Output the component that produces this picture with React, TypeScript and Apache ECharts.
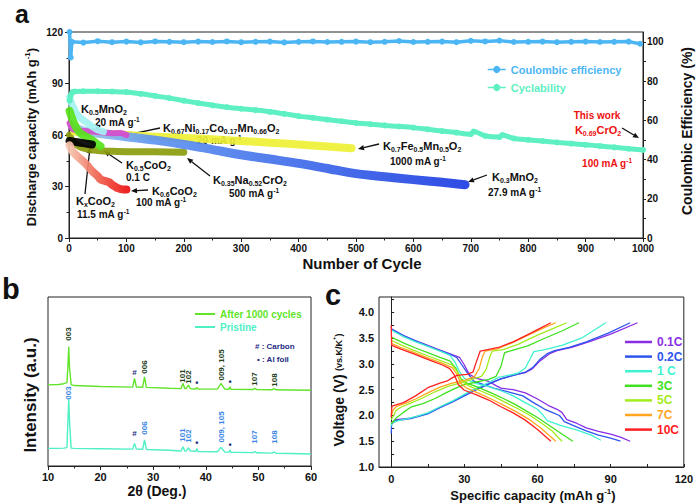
import React, { useEffect, useRef } from "react";
import * as echarts from "echarts";

const FONT = '"Liberation Sans", Arial, Helvetica, sans-serif';

// ---------------- Panel a: cycling data ----------------
const ceData: [number, number][] = [
  [1, 105], [3, 92], [5, 100], [25, 99.6], [50, 100.3], [75, 99.8], [100, 100.1], [125, 99.7], [150, 100.2],
  [175, 100], [200, 99.8], [225, 100.1], [250, 99.9], [275, 100.2], [300, 99.8], [325, 100], [350, 100.1],
  [375, 99.7], [400, 100], [425, 100.2], [450, 99.9], [475, 100], [500, 100.1], [525, 99.8], [550, 100],
  [575, 100.4], [600, 99.9], [625, 100], [650, 100.1], [675, 99.8], [700, 100.5], [725, 100.2], [750, 100.6],
  [775, 99.9], [800, 100], [825, 100.1], [850, 99.8], [875, 100], [900, 100.1], [925, 99.9], [950, 100],
  [975, 100.1], [995, 99],
];
const cyclability: [number, number][] = [
  [1, 80], [3, 83], [6, 85], [10, 85.3], [25, 85.5], [50, 85.5], [75, 85.3], [100, 85], [125, 84], [150, 82.8],
  [175, 81.5], [200, 80], [225, 78.6], [250, 77.3], [275, 76.2], [300, 75.3], [325, 74.5], [350, 73.5],
  [375, 72.3], [400, 71], [425, 70], [450, 69], [475, 68], [500, 67], [525, 66.3], [550, 65.6], [575, 65],
  [600, 64.3], [625, 63.3], [650, 62.3], [675, 61.4], [700, 60.5], [705, 62], [725, 59.5], [750, 58.8],
  [755, 60], [775, 58], [800, 57.2], [825, 56.5], [850, 55.7], [875, 55], [900, 54.3], [925, 53.6],
  [950, 52.8], [975, 52], [1000, 51.3],
];
const k035Na052CrO2: [number, number][] = [
  [1, 60], [5, 57], [10, 55], [20, 53], [30, 52], [50, 51], [75, 50.5], [100, 50.3], [150, 50.2], [200, 50],
];
const k07Fe05Mn05O2: [number, number][] = [
  [10, 62], [50, 61], [100, 60], [150, 59], [200, 58.3], [250, 57.5], [300, 56.5], [350, 55.5], [400, 54.5],
  [450, 53.3], [492, 52.3],
];
const k03MnO2: [number, number][] = [
  [5, 66], [10, 64.5], [20, 63], [30, 62], [50, 61], [75, 60], [100, 59], [150, 57], [200, 54.5], [250, 51.5],
  [300, 48.5], [350, 46], [400, 43.5], [450, 40.5], [500, 37.5], [550, 35.7], [600, 34], [650, 32.5], [690, 31],
];
const k067NiCoMnO2: [number, number][] = [
  [1, 67], [5, 64], [10, 63], [20, 62.5], [40, 62], [60, 61.5], [80, 61], [90, 61.2], [100, 60],
];
const k05MnO2: [number, number][] = [
  [1, 82], [3, 80], [5, 78], [8, 76], [12, 73], [20, 70], [30, 67.5], [40, 65], [50, 63], [60, 62],
];
const k05CoO2: [number, number][] = [
  [1, 74], [3, 72], [5, 70], [10, 66], [15, 63], [20, 61], [30, 59], [40, 57], [50, 54.5], [55, 53.5],
];
const kxCoO2: [number, number][] = [[1, 56.5], [10, 56], [20, 55.5], [30, 55], [40, 54.5]];
const k06CoO2: [number, number][] = [
  [1, 54], [5, 51], [10, 49], [20, 46], [30, 43], [40, 39], [50, 36], [55, 34], [60, 33.5], [65, 33], [70, 32.5],
  [75, 31], [80, 30], [85, 29], [90, 28.5], [95, 28.3], [100, 28.3],
];
const aLeftTicks = [0, 30, 60, 90, 120];
const aRightLabels = [0, 20, 40, 60, 80, 100];
const aRightTicks = [0, 10, 20, 30, 40, 50, 60, 70, 80, 90, 100];

// ---------------- Panel b: XRD ----------------
const xrdAfter: [number, number][] = [
  [10, 48], [12, 48.2], [13, 48.7], [13.6, 49.3], [13.8, 60], [13.95, 70.5], [14.1, 58], [14.4, 48.2],
  [15, 47.6], [20, 47], [26.1, 46.7], [26.45, 51.9], [26.8, 46.7], [28.0, 46.6], [28.35, 52.8], [28.7, 46.5],
  [33, 46], [35.3, 45.8], [35.65, 48.9], [36.0, 45.9], [36.3, 45.9], [36.7, 47.9], [37.1, 45.7], [38.1, 45.6],
  [38.3, 46.6], [38.5, 45.6], [42.2, 45.5], [42.9, 48.9], [43.6, 45.5], [44.4, 45.4], [44.6, 46.9],
  [44.8, 45.4], [49.0, 45.3], [49.35, 45.9], [49.7, 45.2], [52.6, 45.1], [53.0, 45.8], [53.4, 45.1],
  [56, 45], [60, 44.8],
];
const xrdPristine: [number, number][] = [
  [10, 10.4], [12, 10.4], [13, 10.6], [13.6, 10.9], [13.8, 28], [13.95, 39.5], [14.1, 26], [14.4, 10.6],
  [15, 10.4], [20, 10.2], [26.1, 10], [26.45, 13.4], [26.8, 10], [28.0, 9.9], [28.35, 15.4], [28.7, 9.8],
  [33, 9.3], [35.3, 8.9], [35.65, 11.4], [36.0, 8.9], [36.3, 8.9], [36.7, 10.8], [37.1, 8.8], [38.1, 8.7],
  [38.3, 10.4], [38.5, 8.6], [42.2, 8.4], [42.9, 11], [43.6, 8.3], [44.4, 8.2], [44.6, 9.5], [44.8, 8.1],
  [49.0, 7.9], [49.35, 8.5], [49.7, 7.8], [52.6, 7.6], [53.0, 8.3], [53.4, 7.5], [56, 7.4], [60, 7.1],
];
const peakPos = [13.95, 26.45, 28.35, 35.65, 36.7, 38.3, 42.9, 44.6, 49.35, 53.0];
const peakText = ["003", "#", "006", "101", "102", "•", "009, 105", "•", "107", "108"];
const peakYAfter = [334, 372, 367, 376, 377, 383, 365, 382, 379, 380];
const peakYPristine = [393, 433, 428, 435, 436, 443, 427, 445, 437, 437];

// ---------------- Panel c: charge/discharge ----------------
const rates = ["0.1C", "0.2C", "1 C", "3C", "5C", "7C", "10C"];
const rateColors = ["#8a2ee6", "#2f55ee", "#3ff2cf", "#3fe01e", "#a2ec1c", "#ffa61e", "#ff2020"];
const charge: [number, number][][] = [
  [[0, 1.86], [2, 1.92], [8, 1.95], [15, 2.04], [20, 2.16], [25, 2.27], [30, 2.39], [35, 2.51], [40, 2.62],
    [45, 2.71], [50, 2.78], [55, 2.83], [58, 2.91], [61, 3.06], [65, 3.2], [68, 3.26], [74, 3.32], [81, 3.43],
    [90, 3.58], [101, 3.8]],
  [[0, 1.65], [0.2, 1.84], [2, 1.9], [8, 1.94], [15, 2.03], [20, 2.15], [25, 2.26], [30, 2.38], [35, 2.5],
    [40, 2.61], [45, 2.71], [50, 2.78], [55, 2.84], [58, 2.93], [61, 3.09], [64, 3.2], [67, 3.26], [73, 3.32],
    [80, 3.43], [89, 3.6], [98, 3.8]],
  [[0, 1.8], [0.3, 1.86], [3, 1.9], [10, 1.98], [15, 2.05], [20, 2.17], [25, 2.28], [30, 2.41], [35, 2.53],
    [40, 2.64], [44, 2.74], [48, 2.78], [52, 2.82], [55, 2.92], [57, 3.1], [58.5, 3.24], [63, 3.28], [70, 3.36],
    [78, 3.5], [88, 3.8]],
  [[0, 1.84], [2, 1.95], [5, 2.06], [8, 2.16], [13, 2.23], [18, 2.33], [22, 2.43], [26, 2.52], [30, 2.6],
    [35, 2.65], [40, 2.7], [43, 2.76], [45, 2.95], [46.5, 3.22], [50, 3.27], [56, 3.35], [62, 3.48], [70, 3.64],
    [77, 3.8]],
  [[0, 1.92], [1, 2.0], [2, 2.1], [4, 2.16], [8, 2.24], [12, 2.32], [18, 2.46], [23, 2.56], [28, 2.63],
    [33, 2.7], [37, 2.76], [39, 2.9], [40.5, 3.15], [41.5, 3.25], [46, 3.28], [52, 3.38], [60, 3.56], [67, 3.7],
    [72, 3.8]],
  [[0, 1.98], [0.7, 2.1], [2, 2.17], [6, 2.24], [10, 2.32], [15, 2.44], [20, 2.55], [25, 2.63], [30, 2.68],
    [34, 2.75], [36, 2.9], [37.5, 3.15], [38.5, 3.25], [44, 3.3], [50, 3.42], [57, 3.58], [63, 3.71], [67.5, 3.8]],
  [[0, 1.97], [0.3, 2.18], [5, 2.25], [10, 2.38], [15, 2.54], [20, 2.63], [23, 2.67], [25, 2.73], [27, 2.78],
    [31, 2.8], [33.5, 2.84], [35, 3.05], [36.5, 3.25], [44, 3.32], [50, 3.43], [56, 3.57], [61, 3.69], [65.5, 3.8]],
];
const discharge: [number, number][][] = [
  [[0, 3.68], [5, 3.55], [10, 3.45], [15, 3.36], [20, 3.27], [25, 3.18], [28, 3.13], [30, 2.98], [32, 2.8],
    [35, 2.72], [40, 2.66], [43, 2.58], [45, 2.53], [50, 2.5], [55, 2.44], [60, 2.32], [65, 2.18], [68, 2.12],
    [70, 2.06], [72, 1.92], [76, 1.85], [80, 1.76], [85, 1.69], [90, 1.64], [94, 1.58], [98, 1.5]],
  [[0, 3.68], [5, 3.55], [10, 3.45], [15, 3.35], [20, 3.26], [25, 3.17], [27, 3.12], [29, 2.98], [31, 2.84],
    [34, 2.66], [38, 2.6], [42, 2.53], [48, 2.46], [54, 2.38], [58, 2.26], [63, 2.12], [66, 2.06], [69, 2.0],
    [71, 1.88], [75, 1.8], [80, 1.7], [85, 1.62], [90, 1.56], [94, 1.5]],
  [[0, 3.66], [5, 3.53], [10, 3.43], [15, 3.34], [20, 3.25], [24, 3.17], [26, 3.05], [28, 2.85], [30, 2.72],
    [35, 2.62], [40, 2.56], [45, 2.48], [50, 2.38], [55, 2.25], [60, 2.12], [62, 2.02], [64, 1.9], [70, 1.8],
    [76, 1.72], [82, 1.62], [86, 1.52]],
  [[0, 3.52], [5, 3.41], [10, 3.31], [15, 3.22], [20, 3.13], [24, 3.06], [26.5, 2.92], [28.5, 2.72], [31, 2.63],
    [36, 2.54], [41, 2.44], [46, 2.33], [51, 2.21], [55, 2.1], [60, 1.96], [65, 1.8], [70, 1.64], [74.5, 1.5]],
  [[0, 3.46], [4, 3.37], [9, 3.27], [16, 3.14], [21, 3.05], [25, 2.98], [27, 2.86], [29, 2.66], [32, 2.57],
    [37, 2.47], [42, 2.37], [47, 2.25], [52, 2.13], [57, 2.0], [62, 1.84], [66, 1.7], [70, 1.5]],
  [[0, 3.4], [4, 3.32], [9, 3.23], [16, 3.1], [21, 3.01], [25, 2.93], [27, 2.8], [28.5, 2.62], [31, 2.53],
    [36, 2.43], [41, 2.32], [46, 2.2], [51, 2.08], [56, 1.94], [61, 1.77], [67.5, 1.5]],
  [[0, 3.75], [0.2, 3.36], [4, 3.29], [9, 3.2], [16, 3.07], [21, 2.98], [24, 2.91], [26, 2.78], [27.5, 2.6],
    [30, 2.49], [35, 2.4], [40, 2.3], [45, 2.17], [50, 2.05], [55, 1.91], [60, 1.73], [65.5, 1.5]],
];
const cXLabels = [0, 30, 60, 90, 120];
const cXTicks = [0, 15, 30, 45, 60, 75, 90, 105, 120];
const cYLabels = [1.0, 1.5, 2.0, 2.5, 3.0, 3.5, 4.0];
const cYTicks = [1.0, 1.25, 1.5, 1.75, 2.0, 2.25, 2.5, 2.75, 3.0, 3.25, 3.5, 3.75, 4.0, 4.25];

// ---------------- layout ----------------
const gridA = { left: 69, top: 32, width: 574, height: 206 };
const gridB = { left: 48, top: 297, width: 263, height: 169 };
const gridC = { left: 379, top: 297, width: 306, height: 170 };
const bX = (deg: number) => gridB.left + ((deg - 10) / 50) * gridB.width;

const lbl = (extra: any = {}) => ({
  color: "#111", fontWeight: "bold", fontFamily: FONT, fontSize: 10, ...extra,
});

function chem(s: string, m = "f", sb = "s") {
  const re = /\{([^}]*)\}/g;
  let out = "";
  let last = 0;
  let mm: RegExpExecArray | null;
  while ((mm = re.exec(s))) {
    if (mm.index > last) out += `{${m}|${s.slice(last, mm.index)}}`;
    out += `{${sb}|${mm[1]}}`;
    last = re.lastIndex;
  }
  if (last < s.length) out += `{${m}|${s.slice(last)}}`;
  return out;
}
const rate = (t: string, r = "r", u = "u") => `{${r}|${t} g}{${u}|-1}`;

const mkRich = (fill: string) => ({
  f: { fontSize: 11, fontWeight: "bold", fontFamily: FONT, lineHeight: 13, fill },
  s: { fontSize: 7, fontWeight: "bold", fontFamily: FONT, lineHeight: 8, verticalAlign: "bottom", fill },
  r: { fontSize: 10, fontWeight: "bold", fontFamily: FONT, lineHeight: 13, fill },
  u: { fontSize: 6.5, fontWeight: "bold", fontFamily: FONT, lineHeight: 7, verticalAlign: "top", fill },
});
const RICH = mkRich("#111");
const RICH_RED = mkRich("#ee1111");

function T(x: number, y: number, text: string, rich: any = RICH, align = "left", extra: any = {}) {
  return {
    type: "text", x, y, silent: true, ...extra,
    style: {
      text, rich, align, textAlign: align, verticalAlign: "middle", textVerticalAlign: "middle",
      fill: "#111", fontFamily: FONT, fontSize: 11, fontWeight: "bold",
    },
  };
}
function plain(x: number, y: number, text: string, size: number, color = "#111", align = "center", rotation = 0, lineHeight?: number) {
  const style: any = {
    text, align, textAlign: align, verticalAlign: "middle", textVerticalAlign: "middle",
    fill: color, fontFamily: FONT, fontSize: size, fontWeight: "bold",
  };
  if (lineHeight) style.lineHeight = lineHeight;
  return { type: "text", x, y, rotation, silent: true, style };
}
function arrow(x1: number, y1: number, x2: number, y2: number, color = "#111") {
  const ang = Math.atan2(y2 - y1, x2 - x1);
  const L = 6, W = 2.6;
  const bx = x2 - L * Math.cos(ang), by = y2 - L * Math.sin(ang);
  const px = -Math.sin(ang) * W, py = Math.cos(ang) * W;
  return [
    { type: "line", silent: true, shape: { x1, y1, x2: bx, y2: by }, style: { stroke: color, lineWidth: 1.3 } },
    { type: "polygon", silent: true, shape: { points: [[x2, y2], [bx + px, by + py], [bx - px, by - py]] }, style: { fill: color } },
  ];
}

function band(name: string, data: [number, number][], color: any, width: number, extra: any = {}) {
  return {
    type: "line", name, data, xAxisIndex: 0, yAxisIndex: 0, symbol: "none", showSymbol: false,
    smooth: 0.3, silent: true, lineStyle: { color, width, cap: "round", join: "round", opacity: 0.92 },
    ...extra,
  };
}

export default function App() {
  const ref = useRef<HTMLDivElement>(null);
  useEffect(() => {
    if (!ref.current) return;
    const chart = echarts.init(ref.current, undefined, { renderer: "svg" });
    const blueGrad = new echarts.graphic.LinearGradient(0, 0, 1, 0, [
      { offset: 0, color: "#a6d0f6" }, { offset: 0.2, color: "#5f95f0" }, { offset: 1, color: "#1d3de2" },
    ]);
    const redGrad = new echarts.graphic.LinearGradient(0, 0, 1, 0, [
      { offset: 0, color: "#f6c4ae" }, { offset: 0.45, color: "#ef6a55" }, { offset: 1, color: "#ee1111" },
    ]);

    const axisLine = { show: true, lineStyle: { color: "#222", width: 1 } };

    const series: any[] = [
      band("K0.35Na0.52CrO2", k035Na052CrO2, "#8c9c0c", 7),
      band("K0.7Fe0.5Mn0.5O2", k07Fe05Mn05O2, "#eef034", 8),
      band("K0.3MnO2", k03MnO2, blueGrad, 9),
      band("K0.67Ni0.17Co0.17Mn0.66O2", k067NiCoMnO2, "#d64ccc", 6),
      band("K0.5MnO2", k05MnO2, "#a2f2f2", 7),
      band("K0.5CoO2", k05CoO2, "#58e21c", 8),
      band("KxCoO2", kxCoO2, "#000000", 8),
      band("K0.6CoO2", k06CoO2, redGrad, 8),
      {
        type: "line", name: "Cyclability", data: cyclability, xAxisIndex: 0, yAxisIndex: 0, smooth: 0.3,
        symbol: "circle", symbolSize: 6, showSymbol: true, silent: true,
        lineStyle: { color: "#5ef0c2", width: 5 }, itemStyle: { color: "#5ef0c2" },
      },
      {
        type: "line", name: "Coulombic efficiency", data: ceData, xAxisIndex: 0, yAxisIndex: 1,
        symbol: "circle", symbolSize: 6, showSymbol: true, silent: true,
        lineStyle: { color: "#4cb6f4", width: 3.5 }, itemStyle: { color: "#4cb6f4" },
      },
      {
        type: "line", name: "After 1000 cycles", data: xrdAfter, xAxisIndex: 1, yAxisIndex: 2, symbol: "none",
        silent: true, lineStyle: { color: "#62e42a", width: 1.4 }, itemStyle: { color: "#62e42a" },
      },
      {
        type: "line", name: "Pristine", data: xrdPristine, xAxisIndex: 1, yAxisIndex: 2, symbol: "none",
        silent: true, lineStyle: { color: "#4ff0c4", width: 1.4 }, itemStyle: { color: "#4ff0c4" },
      },
    ];
    rates.forEach((r, i) => {
      [charge[i], discharge[i]].forEach((d) => {
        series.push({
          type: "line", name: r, data: d, xAxisIndex: 2, yAxisIndex: 3, symbol: "none", silent: true,
          lineStyle: { color: rateColors[i], width: 1.3 }, itemStyle: { color: rateColors[i] },
        });
      });
    });

    const graphics: any[] = [
      // panel letters
      plain(15, 13.5, "a", 25, "#111", "left", 0, 25),
      plain(2, 289, "b", 29, "#111", "left", 0, 22),
      plain(325, 295, "c", 29, "#111", "left", 0, 20),
      // axis titles
      {
        type: "text", x: 31, y: 137, rotation: Math.PI / 2, silent: true,
        style: {
          text: "{t|Discharge capacity (mAh g}{p|-1}{t|)}", align: "center", textAlign: "center",
          verticalAlign: "middle", textVerticalAlign: "middle",
          rich: {
            t: { fontSize: 13, fontWeight: "bold", fontFamily: FONT, lineHeight: 15, fill: "#111" },
            p: { fontSize: 8, fontWeight: "bold", fontFamily: FONT, lineHeight: 8, verticalAlign: "top", fill: "#111" },
          },
        },
      },
      plain(687, 131, "Coulombic Efficiency (%)", 14, "#111", "center", Math.PI / 2),
      plain(362, 263, "Number of Cycle", 15),
      plain(30, 395, "Intensity (a.u.)", 17, "#111", "center", Math.PI / 2),
      plain(157, 491, "2θ (Deg.)", 14),
      {
        type: "text", x: 533, y: 495, silent: true,
        style: {
          text: "{t|Specific capacity (mAh g}{p|-1}{t|)}", align: "center", textAlign: "center",
          verticalAlign: "middle", textVerticalAlign: "middle",
          rich: {
            t: { fontSize: 13, fontWeight: "bold", fontFamily: FONT, lineHeight: 15, fill: "#111" },
            p: { fontSize: 8, fontWeight: "bold", fontFamily: FONT, lineHeight: 8, verticalAlign: "top", fill: "#111" },
          },
        },
      },
      {
        type: "text", x: 339, y: 390, rotation: Math.PI / 2, silent: true,
        style: {
          text: "{t|Voltage (V)} {w|(vs.K/K}{p|+}{w|)}", align: "center", textAlign: "center",
          verticalAlign: "middle", textVerticalAlign: "middle",
          rich: {
            t: { fontSize: 14, fontWeight: "bold", fontFamily: FONT, lineHeight: 16, fill: "#111" },
            w: { fontSize: 9, fontWeight: "bold", fontFamily: FONT, lineHeight: 16, fill: "#111" },
            p: { fontSize: 6, fontWeight: "bold", fontFamily: FONT, lineHeight: 8, verticalAlign: "top", fill: "#111" },
          },
        },
      },
      // panel a annotations
      T(81, 109, chem("K{0.5}MnO{2}")),
      T(95, 122, rate("20 mA")),
      ...arrow(100, 126, 95, 133),
      T(163, 128, chem("K{0.67}Ni{0.17}Co{0.17}Mn{0.66}O{2}")),
      T(197, 140, rate("20 mA")),
      ...arrow(160, 128, 126, 135),
      T(126, 165, chem("K{0.5}CoO{2}")),
      T(126, 177, "{r|0.1 C}"),
      ...arrow(122, 163, 104, 151),
      T(213, 180, chem("K{0.35}Na{0.52}CrO{2}")),
      T(229, 193, rate("500 mA")),
      ...arrow(210, 176, 187, 158),
      T(152, 191, chem("K{0.6}CoO{2}")),
      T(136, 202, rate("100 mA")),
      ...arrow(148, 190, 131, 191),
      T(76, 201, chem("K{x}CoO{2}")),
      T(77, 214, rate("11.5 mA")),
      ...arrow(85, 194, 90, 147),
      T(383, 146, chem("K{0.7}Fe{0.5}Mn{0.5}O{2}")),
      T(390, 161, rate("1000 mA")),
      ...arrow(379, 144, 358, 149),
      T(492, 177, chem("K{0.3}MnO{2}")),
      T(488, 192, rate("27.9 mA")),
      ...arrow(487, 175, 468, 182),
      T(597, 115, "{r|This work}", RICH_RED, "center"),
      T(598, 130, chem("K{0.69}CrO{2}"), RICH_RED, "center"),
      ...arrow(622, 128, 639, 138),
      T(607, 163, rate("100 mA"), RICH_RED, "center"),
      // panel b annotations
      plain(255, 346, "# : Carbon", 8, "#1c2a80", "left"),
      plain(257, 359, "• : Al foil", 8, "#1c2a80", "left"),
    ];
    peakPos.forEach((p, i) => {
      const t = peakText[i];
      const rot = t === "#" || t === "•" ? 0 : Math.PI / 2;
      graphics.push(plain(bX(p), peakYAfter[i], t, t === "•" ? 9 : 8, t === "#" || t === "•" ? "#1c2a80" : "#22401a", "center", rot));
      graphics.push(plain(bX(p), peakYPristine[i], t, t === "•" ? 9 : 8, t === "#" || t === "•" ? "#1c2a80" : "#3a86e6", "center", rot));
    });

    chart.setOption({
      animation: false,
      textStyle: { fontFamily: FONT },
      grid: [
        { ...gridA, show: true, borderColor: "#222", borderWidth: 1, backgroundColor: "transparent" },
        { ...gridB, show: true, borderColor: "#222", borderWidth: 1, backgroundColor: "transparent" },
        { ...gridC, show: true, borderColor: "#222", borderWidth: 1, backgroundColor: "transparent" },
      ],
      xAxis: [
        {
          type: "value", gridIndex: 0, min: 0, max: 1000, interval: 100, axisLine,
          axisTick: { show: true, inside: false, length: 4, lineStyle: { color: "#222" } },
          minorTick: { show: true, splitNumber: 2, length: 2.5, lineStyle: { color: "#222" } },
          axisLabel: lbl({ margin: 5, fontSize: 10, formatter: (v: number) => String(v) }), splitLine: { show: false },
        },
        {
          type: "value", gridIndex: 1, min: 10, max: 60, interval: 10, axisLine,
          axisTick: { show: true, inside: false, length: 4, lineStyle: { color: "#222" } },
          minorTick: { show: true, splitNumber: 2, length: 2.5, lineStyle: { color: "#222" } },
          axisLabel: lbl({ margin: 5, fontSize: 11 }), splitLine: { show: false },
        },
        {
          type: "value", gridIndex: 2, min: -5, max: 120, axisLine,
          axisTick: { show: true, inside: true, length: 3, customValues: cXTicks, lineStyle: { color: "#222" } },
          axisLabel: lbl({ margin: 6, fontSize: 11, customValues: cXLabels }), splitLine: { show: false },
        },
      ],
      yAxis: [
        {
          type: "value", gridIndex: 0, min: 0, max: 120, interval: 30, axisLine,
          axisTick: { show: true, inside: false, length: 4, lineStyle: { color: "#222" } },
          minorTick: { show: true, splitNumber: 2, length: 2.5, lineStyle: { color: "#222" } },
          axisLabel: lbl({ margin: 6, fontSize: 10, customValues: aLeftTicks }), splitLine: { show: false },
        },
        {
          type: "value", gridIndex: 0, position: "right", min: 0, max: 105, axisLine,
          axisTick: { show: true, inside: false, length: 3, customValues: aRightTicks, lineStyle: { color: "#222" } },
          axisLabel: lbl({ margin: 4, fontSize: 10, customValues: aRightLabels }), splitLine: { show: false },
        },
        { type: "value", gridIndex: 1, min: 0, max: 100, show: false, splitLine: { show: false } },
        {
          type: "value", gridIndex: 2, min: 1.0, max: 4.3, axisLine,
          axisTick: { show: true, inside: true, length: 3, customValues: cYTicks, lineStyle: { color: "#222" } },
          axisLabel: lbl({ margin: 5, fontSize: 11, customValues: cYLabels, formatter: (v: number) => v.toFixed(1) }),
          splitLine: { show: false },
        },
      ],
      legend: [
        {
          data: [
            { name: "Coulombic efficiency", textStyle: { color: "#4cb6f4" } },
            { name: "Cyclability", textStyle: { color: "#5ef0c2" } },
          ],
          orient: "vertical", left: 487, top: 63, padding: 0, itemWidth: 18, itemHeight: 9, itemGap: 5,
          lineStyle: { width: 1.5 }, selectedMode: false,
          textStyle: { fontSize: 11, fontWeight: "bold", fontFamily: FONT, lineHeight: 13 },
        },
        {
          data: [
            { name: "After 1000 cycles", icon: "rect", textStyle: { color: "#62e42a" } },
            { name: "Pristine", icon: "rect", textStyle: { color: "#4ff0c4" } },
          ],
          orient: "vertical", left: 195, top: 308, padding: 0, itemWidth: 20, itemHeight: 2, itemGap: 1,
          selectedMode: false,
          textStyle: { fontSize: 10, fontWeight: "bold", fontFamily: FONT, lineHeight: 12 },
        },
        {
          data: rates.map((r, i) => ({ name: r, icon: "rect", textStyle: { color: rateColors[i] } })),
          orient: "vertical", left: 625, top: 335, padding: 0, itemWidth: 27, itemHeight: 2.5, itemGap: 0.6,
          selectedMode: false,
          textStyle: { fontSize: 12, fontWeight: "bold", fontFamily: FONT, lineHeight: 14 },
        },
      ],
      graphic: { elements: graphics },
      series,
    });
    return () => chart.dispose();
  }, []);
  return (
    <div
      ref={ref}
      style={{ position: "absolute", left: 0, top: 0, width: 696, height: 504, background: "#fff" }}
    />
  );
}
